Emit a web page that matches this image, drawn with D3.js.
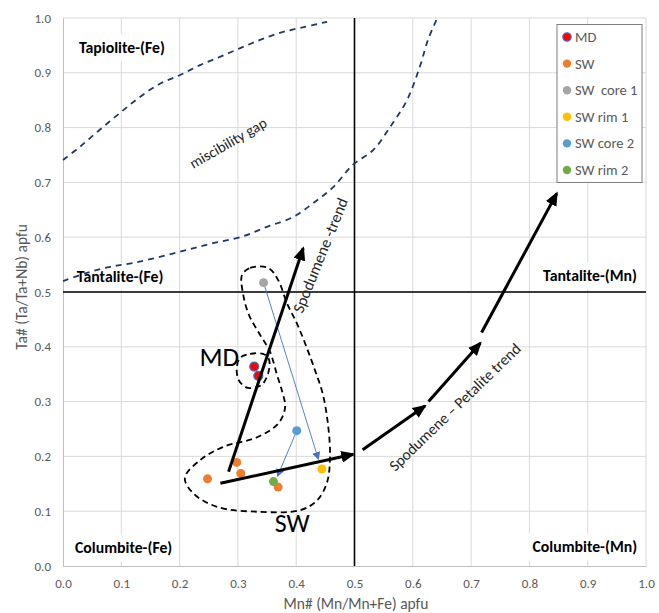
<!DOCTYPE html>
<html>
<head>
<meta charset="utf-8">
<script src="https://cdn.jsdelivr.net/npm/d3@7/dist/d3.min.js"></script>
<style>
  body { margin: 0; background: #fff; }
  svg { display: block; font-family: Carlito, Calibri, Lato, 'Open Sans', sans-serif; }
</style>
</head>
<body>
<svg id="chart" width="659" height="613"></svg>
<script>
// ---- data ----
const xTicks = [0, 0.1, 0.2, 0.3, 0.4, 0.5, 0.6, 0.7, 0.8, 0.9, 1.0];
const yTicks = [0, 0.1, 0.2, 0.3, 0.4, 0.5, 0.6, 0.7, 0.8, 0.9, 1.0];

const mdX = [0.328, 0.335];
const mdY = [0.364, 0.347];
const swX = [0.248, 0.298, 0.305, 0.369];
const swY = [0.159, 0.189, 0.169, 0.144];
const core1 = [[0.344, 0.517]];
const rim1 = [[0.444, 0.177]];
const core2 = [[0.401, 0.247]];
const rim2 = [[0.361, 0.154]];

// core -> rim tie lines
const tieLines = [
  [[0.344, 0.517], [0.438, 0.195]],
  [[0.401, 0.247], [0.368, 0.164]],
];

// miscibility gap boundaries
const gapUpper = [[0, 0.741], [0.029, 0.765], [0.063, 0.796], [0.098, 0.827], [0.132, 0.856],
  [0.168, 0.881], [0.201, 0.896], [0.235, 0.914], [0.269, 0.929], [0.304, 0.945],
  [0.338, 0.960], [0.372, 0.973], [0.407, 0.982], [0.453, 0.993]];
const gapLower = [[0, 0.520], [0.041, 0.535], [0.081, 0.546], [0.120, 0.553], [0.166, 0.564],
  [0.213, 0.577], [0.257, 0.589], [0.304, 0.600], [0.350, 0.619], [0.395, 0.637],
  [0.429, 0.662], [0.464, 0.692], [0.497, 0.732], [0.532, 0.759], [0.561, 0.801],
  [0.590, 0.850], [0.612, 0.911], [0.626, 0.960], [0.642, 1.0]];

// trend arrows
const spodTrend = [[0.284, 0.172], [0.412, 0.580]];
const swShift = [[0.270, 0.151], [0.498, 0.204]];
const petaliteTrend = [
  [[0.514, 0.212], [0.621, 0.292]],
  [[0.627, 0.300], [0.716, 0.407]],
  [[0.718, 0.426], [0.847, 0.680]],
];

// dashed field outlines
const swField = [[0.307, 0.531], [0.321, 0.544], [0.352, 0.544], [0.369, 0.522], [0.384, 0.480],
  [0.401, 0.443], [0.415, 0.407], [0.431, 0.361], [0.446, 0.312], [0.455, 0.254],
  [0.458, 0.199], [0.453, 0.153], [0.436, 0.120], [0.407, 0.102], [0.333, 0.099],
  [0.264, 0.108], [0.223, 0.133], [0.209, 0.161], [0.235, 0.193], [0.274, 0.217],
  [0.333, 0.235], [0.370, 0.261], [0.381, 0.290], [0.376, 0.318], [0.367, 0.349],
  [0.355, 0.391], [0.338, 0.422], [0.319, 0.458], [0.309, 0.496]];
const mdField = [[0.304, 0.380], [0.321, 0.387], [0.343, 0.387], [0.353, 0.378], [0.352, 0.352],
  [0.340, 0.330], [0.317, 0.325], [0.302, 0.338], [0.298, 0.361]];

const legendNames = ['MD', 'SW', 'SW  core 1', 'SW rim 1', 'SW core 2', 'SW rim 2'];
const legendColors = ['#ff0000', '#ed7d31', '#a5a5a5', '#ffc000', '#5b9bd5', '#70ad47'];

// ---- chart ----
const svg = d3.select('#chart');
const x = d3.scaleLinear().domain([0, 1]).range([63, 646]);
const y = d3.scaleLinear().domain([0, 1]).range([566, 18]);
const txt = '#595959';

const defs = svg.append('defs');
defs.append('marker').attr('id', 'bigHead')
  .attr('viewBox', '0 0 14 12').attr('markerUnits', 'userSpaceOnUse')
  .attr('markerWidth', 14).attr('markerHeight', 12)
  .attr('refX', 12).attr('refY', 6).attr('orient', 'auto')
  .append('path').attr('d', 'M0,0 L14,6 L0,12 Z').attr('fill', '#000');
defs.append('marker').attr('id', 'smallHead')
  .attr('viewBox', '0 0 8 8').attr('markerUnits', 'userSpaceOnUse')
  .attr('markerWidth', 8).attr('markerHeight', 8)
  .attr('refX', 7).attr('refY', 4).attr('orient', 'auto')
  .append('path').attr('d', 'M0,0 L8,4 L0,8 Z').attr('fill', '#4472c4');

// gridlines
svg.append('g').selectAll('line').data(xTicks.slice(1)).join('line')
  .attr('x1', d => x(d)).attr('x2', d => x(d)).attr('y1', y(0)).attr('y2', y(1))
  .attr('stroke', '#d9d9d9').attr('stroke-width', 1);
svg.append('g').selectAll('line').data(yTicks.slice(1)).join('line')
  .attr('x1', x(0)).attr('x2', x(1)).attr('y1', d => y(d)).attr('y2', d => y(d))
  .attr('stroke', '#d9d9d9').attr('stroke-width', 1);

// axes
const xAxis = svg.append('g').attr('transform', `translate(0,${y(0)})`)
  .call(d3.axisBottom(x).tickValues(xTicks).tickFormat(d3.format('.1f')).tickSize(0).tickPadding(13));
const yAxis = svg.append('g').attr('transform', `translate(${x(0)},0)`)
  .call(d3.axisLeft(y).tickValues(yTicks).tickFormat(d3.format('.1f')).tickSize(0).tickPadding(12));
[xAxis, yAxis].forEach(a => {
  a.select('.domain').attr('stroke', '#bfbfbf');
  a.selectAll('text').attr('fill', txt).style('font-size', '13px')
    .style('font-family', 'Carlito, Calibri, Lato, sans-serif');
});

svg.append('text').attr('x', 356).attr('y', 609).attr('text-anchor', 'middle')
  .attr('fill', txt).style('font-size', '15.5px').text('Mn# (Mn/Mn+Fe) apfu');
svg.append('text').attr('transform', 'translate(27,287) rotate(-90)').attr('text-anchor', 'middle')
  .attr('fill', txt).style('font-size', '15.5px').text('Ta# (Ta/Ta+Nb) apfu');

// field labels with white boxes
const fieldLabels = [
  { t: 'Tapiolite-(Fe)', x: 0.101, y: 0.946 },
  { t: 'Tantalite-(Fe)', x: 0.098, y: 0.529 },
  { t: 'Tantalite-(Mn)', x: 0.904, y: 0.530 },
  { t: 'Columbite-(Fe)', x: 0.104, y: 0.033 },
  { t: 'Columbite-(Mn)', x: 0.895, y: 0.035 },
];
fieldLabels.forEach(l => {
  const g = svg.append('g');
  const t = g.append('text').attr('x', x(l.x)).attr('y', y(l.y)).attr('dy', '0.35em')
    .attr('text-anchor', 'middle').attr('fill', '#000')
    .style('font-size', '15.8px').style('font-weight', 'bold').text(l.t);
  const b = t.node().getBBox();
  g.insert('rect', 'text').attr('x', b.x - 6).attr('y', b.y - 4)
    .attr('width', b.width + 12).attr('height', b.height + 8).attr('fill', '#fff');
});

// 0.5 divider lines
svg.append('line').attr('x1', x(0.5)).attr('x2', x(0.5)).attr('y1', y(0)).attr('y2', y(1))
  .attr('stroke', '#000').attr('stroke-width', 1.6);
svg.append('line').attr('x1', x(0)).attr('x2', x(1)).attr('y1', y(0.5)).attr('y2', y(0.5))
  .attr('stroke', '#000').attr('stroke-width', 1.6);

// miscibility gap curves
const curve = d3.line().x(d => x(d[0])).y(d => y(d[1])).curve(d3.curveCatmullRom);
[gapUpper, gapLower].forEach(pts => {
  svg.append('path').attr('d', curve(pts)).attr('fill', 'none')
    .attr('stroke', '#203864').attr('stroke-width', 1.8).attr('stroke-dasharray', '6,5');
});
svg.append('text').attr('transform', `translate(${x(0.283)},${y(0.772)}) rotate(-30)`)
  .attr('text-anchor', 'middle').attr('dy', '0.35em').attr('fill', '#262626')
  .style('font-size', '15px').text('miscibility gap');

// dashed field outlines
const closed = d3.line().x(d => x(d[0])).y(d => y(d[1])).curve(d3.curveCatmullRomClosed);
[swField, mdField].forEach(pts => {
  svg.append('path').attr('d', closed(pts)).attr('fill', 'none')
    .attr('stroke', '#000').attr('stroke-width', 1.8).attr('stroke-dasharray', '6,4');
});

// tie lines
tieLines.forEach(pts => {
  svg.append('line').attr('x1', x(pts[0][0])).attr('y1', y(pts[0][1]))
    .attr('x2', x(pts[1][0])).attr('y2', y(pts[1][1]))
    .attr('stroke', '#4472c4').attr('stroke-width', 0.9).attr('marker-end', 'url(#smallHead)');
});

// points
const pts = [
  ...mdX.map((v, i) => ({ x: v, y: mdY[i], c: '#ff0000', s: '#4472c4' })),
  ...swX.map((v, i) => ({ x: v, y: swY[i], c: '#ed7d31' })),
  ...core1.map(d => ({ x: d[0], y: d[1], c: '#a5a5a5' })),
  ...rim1.map(d => ({ x: d[0], y: d[1], c: '#ffc000' })),
  ...core2.map(d => ({ x: d[0], y: d[1], c: '#5b9bd5' })),
  ...rim2.map(d => ({ x: d[0], y: d[1], c: '#70ad47' })),
];
svg.append('g').selectAll('circle').data(pts).join('circle')
  .attr('cx', d => x(d.x)).attr('cy', d => y(d.y)).attr('r', 4.5)
  .attr('fill', d => d.c).attr('stroke', d => d.s || 'none').attr('stroke-width', 1.2);

// trend arrows
const straight = d3.line().x(d => x(d[0])).y(d => y(d[1]));
[spodTrend, swShift, ...petaliteTrend].forEach(p => {
  svg.append('path').attr('d', straight(p)).attr('fill', 'none')
    .attr('stroke', '#000').attr('stroke-width', 3).attr('marker-end', 'url(#bigHead)');
});

svg.append('text').attr('transform', `translate(${x(0.441)},${y(0.567)}) rotate(-68)`)
  .attr('text-anchor', 'middle').attr('dy', '0.35em').attr('fill', '#262626')
  .style('font-size', '16px').text('Spodumene -trend');
svg.append('text').attr('transform', `translate(${x(0.672)},${y(0.290)}) rotate(-44)`)
  .attr('text-anchor', 'middle').attr('dy', '0.35em').attr('fill', '#262626')
  .style('font-size', '15.5px').text('Spodumene – Petalite trend');

svg.append('text').attr('x', x(0.268)).attr('y', y(0.382)).attr('dy', '0.35em')
  .attr('text-anchor', 'middle').style('font-size', '27px').text('MD');
svg.append('text').attr('x', x(0.393)).attr('y', y(0.078)).attr('dy', '0.35em')
  .attr('text-anchor', 'middle').style('font-size', '26px').text('SW');

// legend
const lg = svg.append('g');
lg.append('rect').attr('x', 557).attr('y', 24.5).attr('width', 85).attr('height', 158)
  .attr('fill', '#fff').attr('stroke', '#7f7f7f').attr('stroke-width', 1);
legendNames.forEach((n, i) => {
  const yy = 37 + i * 26.6;
  lg.append('circle').attr('cx', 567).attr('cy', yy).attr('r', 4.2)
    .attr('fill', legendColors[i]).attr('stroke', i === 0 ? '#4472c4' : 'none').attr('stroke-width', 1.2);
  lg.append('text').attr('x', 575).attr('y', yy).attr('dy', '0.35em')
    .attr('fill', txt).style('font-size', '14.5px').style('white-space', 'pre').text(n);
});
</script>
</body>
</html>
